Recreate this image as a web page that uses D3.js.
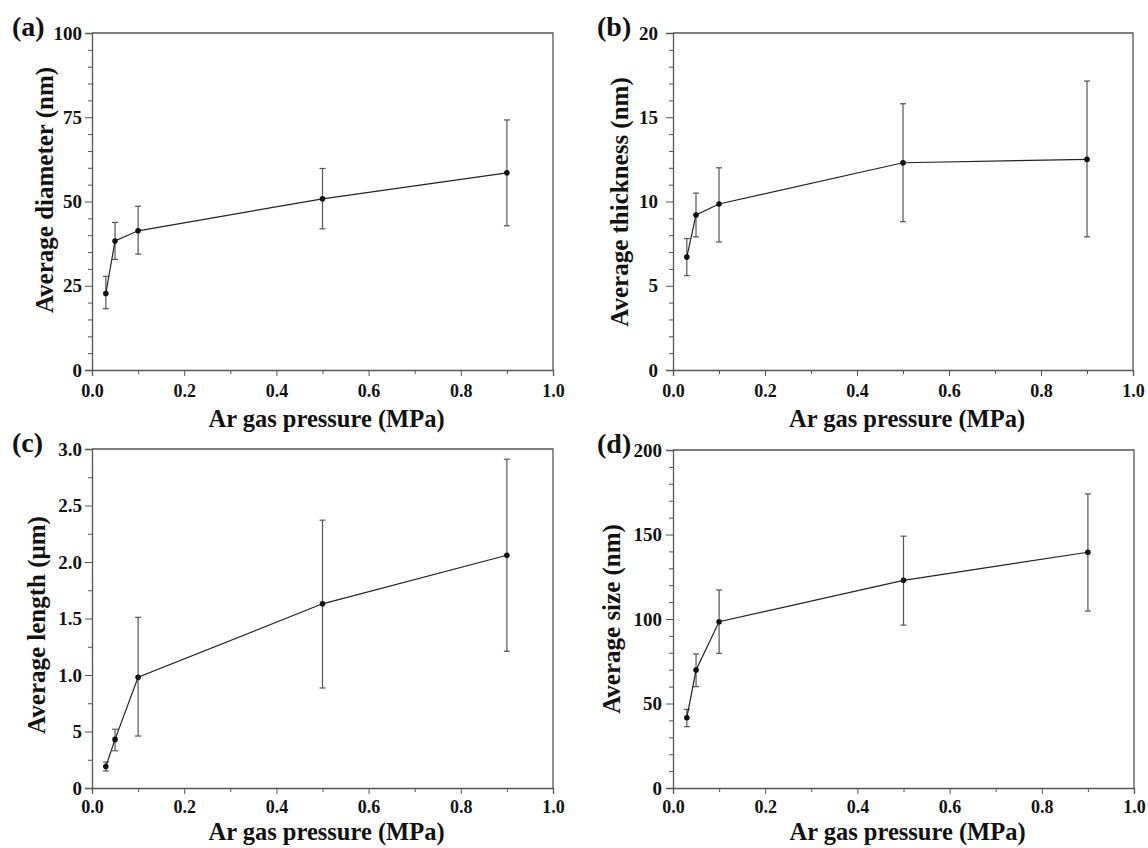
<!DOCTYPE html>
<html lang="en">
<head>
<meta charset="UTF-8">
<title>Ar gas pressure panels</title>
<style>
  body { margin: 0; background: #fff; }
  svg text { font-family: "Liberation Serif", Tinos, "Times New Roman", Times, serif !important; font-weight: bold; fill: #111; }
  .axis path, .axis line { stroke: #555; }
</style>
</head>
<body>
<svg width="1148" height="848"></svg>
<script src="https://d3js.org/d3.v7.min.js"></script>
<script>
// shared x values (Ar gas pressure, MPa)
var pressure = [0.03, 0.05, 0.1, 0.5, 0.9];
var xTicks = [0, 0.2, 0.4, 0.6, 0.8, 1.0];
var xTickLabels = ["0.0", "0.2", "0.4", "0.6", "0.8", "1.0"];

// (a) average diameter (nm)
var diameter = [22.7, 38.3, 41.3, 50.8, 58.5];
var diameterLow = [18.2, 32.8, 34.4, 41.9, 42.8];
var diameterHigh = [27.8, 43.8, 48.6, 59.8, 74.2];
var diameterTicks = [0, 25, 50, 75, 100];
var diameterTickLabels = ["0", "25", "50", "75", "100"];

// (b) average thickness (nm)
var thickness = [6.7, 9.2, 9.85, 12.3, 12.5];
var thicknessLow = [5.6, 7.9, 7.6, 8.8, 7.9];
var thicknessHigh = [7.8, 10.5, 12.0, 15.8, 17.15];
var thicknessTicks = [0, 5, 10, 15, 20];
var thicknessTickLabels = ["0", "5", "10", "15", "20"];

// (c) average length (um)
var lengthVals = [0.19, 0.43, 0.98, 1.63, 2.06];
var lengthLow = [0.15, 0.33, 0.46, 0.885, 1.21];
var lengthHigh = [0.23, 0.52, 1.51, 2.37, 2.91];
var lengthTicks = [0, 0.5, 1.0, 1.5, 2.0, 2.5, 3.0];
var lengthTickLabels = ["0", "5", "1.0", "1.5", "2.0", "2.5", "3.0"];

// (d) average size (nm)
var sizeVals = [41.6, 69.8, 98.4, 122.9, 139.5];
var sizeLow = [36.3, 60, 79.7, 96.4, 104.7];
var sizeHigh = [46.5, 79.3, 117.2, 149, 174];
var sizeTicks = [0, 50, 100, 150, 200];
var sizeTickLabels = ["0", "50", "100", "150", "200"];

var svg = d3.select("svg");
var serif = "'Liberation Serif', Tinos, 'Times New Roman', serif";

var panels = [
  {tag: "(a)", left: 92, top: 33, right: 553, bottom: 370, yMax: 100, minor: 5,
   ticks: diameterTicks, labels: diameterTickLabels, vals: diameter, lo: diameterLow, hi: diameterHigh,
   yTitle: "Average diameter (nm)", yTitleOff: 39, yTitleMid: 190, tagX: 12, pad: 3, xPad: 8, titleOff: 57},
  {tag: "(b)", left: 673, top: 33, right: 1133, bottom: 370, yMax: 20, minor: 1,
   ticks: thicknessTicks, labels: thicknessTickLabels, vals: thickness, lo: thicknessLow, hi: thicknessHigh,
   yTitle: "Average thickness (nm)", yTitleOff: 45, yTitleMid: 202, tagX: 597, pad: 8, xPad: 8, titleOff: 57},
  {tag: "(c)", left: 92, top: 449, right: 553, bottom: 788, yMax: 3, minor: 0.25,
   ticks: lengthTicks, labels: lengthTickLabels, vals: lengthVals, lo: lengthLow, hi: lengthHigh,
   yTitle: "Average length (\u03bcm)", yTitleOff: 47, yTitleMid: 625, tagX: 12, pad: 3, xPad: 6, titleOff: 52},
  {tag: "(d)", left: 673, top: 450, right: 1134, bottom: 788, yMax: 200, minor: 10,
   ticks: sizeTicks, labels: sizeTickLabels, vals: sizeVals, lo: sizeLow, hi: sizeHigh,
   yTitle: "Average size (nm)", yTitleOff: 53, yTitleMid: 619, tagX: 597, pad: 4, xPad: 6, titleOff: 52}
];

panels.forEach(function (p) {
  var x = d3.scaleLinear().domain([0, 1]).range([p.left, p.right]);
  var y = d3.scaleLinear().domain([0, p.yMax]).range([p.bottom, p.top]);
  var g = svg.append("g");

  // frame (top and right)
  g.append("path")
    .attr("d", "M" + x(0) + "," + y(p.yMax) + "H" + x(1) + "V" + y(0))
    .attr("fill", "none").attr("stroke", "#555").attr("stroke-width", 1.3);

  // minor ticks
  var xMinor = d3.range(0.1, 1.0, 0.2);
  g.append("g").attr("class", "axis")
    .attr("transform", "translate(0," + p.bottom + ")")
    .call(d3.axisBottom(x).tickValues(xMinor).tickSize(4).tickFormat(""))
    .call(function (s) { s.select(".domain").remove(); });
  var yMinor = d3.range(0, p.yMax + 1e-9, p.minor).filter(function (v) {
    return p.ticks.every(function (t) { return Math.abs(t - v) > 1e-9; });
  });
  g.append("g").attr("class", "axis")
    .attr("transform", "translate(" + p.left + ",0)")
    .call(d3.axisLeft(y).tickValues(yMinor).tickSize(4).tickFormat(""))
    .call(function (s) { s.select(".domain").remove(); });

  // major axes
  var xa = g.append("g").attr("class", "axis")
    .attr("transform", "translate(0," + p.bottom + ")")
    .call(d3.axisBottom(x).tickValues(xTicks).tickSizeOuter(0).tickSize(6).tickPadding(p.xPad)
      .tickFormat(function (d, i) { return xTickLabels[i]; }));
  xa.attr("font-family", serif);
  xa.selectAll("text").attr("font-size", 18);
  var ya = g.append("g").attr("class", "axis")
    .attr("transform", "translate(" + p.left + ",0)")
    .call(d3.axisLeft(y).tickValues(p.ticks).tickSizeOuter(0).tickSize(7).tickPadding(p.pad)
      .tickFormat(function (d, i) { return p.labels[i]; }));
  ya.attr("font-family", serif);
  ya.selectAll("text").attr("font-size", 19);
  g.selectAll(".axis .domain").attr("stroke-width", 1.3);

  // error bars
  var eb = g.append("g").attr("stroke", "#555").attr("stroke-width", 1.2);
  pressure.forEach(function (px, i) {
    var cx = x(px);
    eb.append("line").attr("x1", cx).attr("x2", cx).attr("y1", y(p.lo[i])).attr("y2", y(p.hi[i]));
    eb.append("line").attr("x1", cx - 3).attr("x2", cx + 3).attr("y1", y(p.lo[i])).attr("y2", y(p.lo[i]));
    eb.append("line").attr("x1", cx - 3).attr("x2", cx + 3).attr("y1", y(p.hi[i])).attr("y2", y(p.hi[i]));
  });

  // line + markers
  var line = d3.line().x(function (d, i) { return x(pressure[i]); }).y(function (d) { return y(d); });
  g.append("path").datum(p.vals).attr("d", line)
    .attr("fill", "none").attr("stroke", "#222").attr("stroke-width", 1.2);
  g.selectAll("circle.pt").data(p.vals).enter().append("circle")
    .attr("cx", function (d, i) { return x(pressure[i]); })
    .attr("cy", function (d) { return y(d); })
    .attr("r", 2.8).attr("fill", "#111");

  // titles
  g.append("text")
    .attr("x", (p.left + p.right) / 2 + 4).attr("y", p.bottom + p.titleOff)
    .attr("text-anchor", "middle").attr("font-size", 24.5).attr("font-family", serif)
    .text("Ar gas pressure (MPa)");
  g.append("text")
    .attr("transform", "translate(" + (p.left - p.yTitleOff) + "," + p.yTitleMid + ") rotate(-90)")
    .attr("text-anchor", "middle").attr("font-size", 25).attr("font-family", serif)
    .text(p.yTitle);
  g.append("text")
    .attr("x", p.tagX).attr("y", p.top + 3)
    .attr("font-size", 28).attr("font-family", serif)
    .text(p.tag);
});
</script>
</body>
</html>
